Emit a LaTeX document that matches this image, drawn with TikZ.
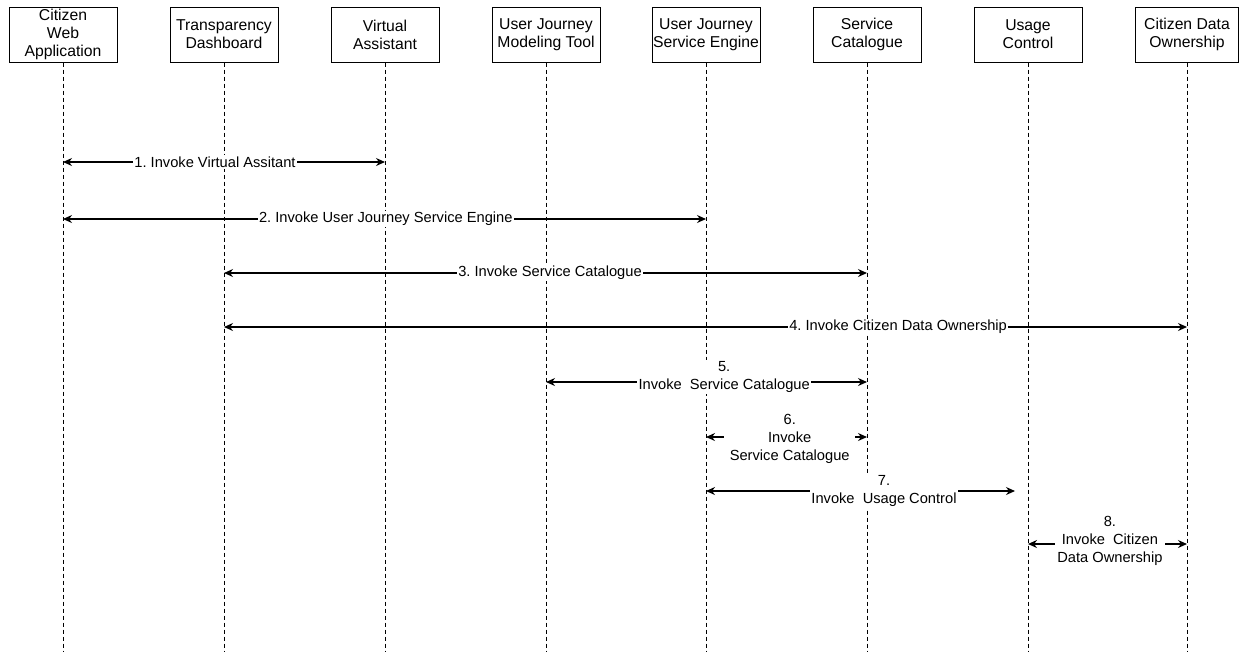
\documentclass[tikz,border=0pt]{standalone}
\usepackage{fontspec}
\setmainfont{Liberation Sans}
\frenchspacing
\usetikzlibrary{arrows.meta, positioning, calc}
\tikzset{
  actor/.style={
    draw=black,
    line width=0.75pt,
    fill=white,
    minimum width=81pt,
    minimum height=41.25pt,
    inner sep=0pt,
    align=center,
    font=\fontsize{11.8}{13.5}\selectfont
  },
  lifeline/.style={
    draw=black,
    line width=0.75pt,
    dash pattern=on 3pt off 2.25pt
  },
  msg/.style={
    {Stealth[length=6.75pt,width=6pt]}-{Stealth[length=6.75pt,width=6pt]},
    line width=0.9pt,
    draw=black
  },
  msglabel/.style={
    fill=white,
    inner sep=1pt,
    align=center,
    font=\fontsize{11}{13.5}\selectfont
  }
}

\begin{document}
\begin{tikzpicture}[x=0.75pt, y=-0.75pt]
  \useasboundingbox (0,0) rectangle (1239,651);

  % participants
  \node[actor] (cwa)  at (63, 34.5)   {Citizen\\Web\\Application};
  \node[actor] (td)   at (224, 34.5)  {Transparency\\Dashboard};
  \node[actor] (va)   at (385, 34.5)  {Virtual\\Assistant};
  \node[actor] (ujmt) at (546, 34.5)  {User Journey\\Modeling Tool};
  \node[actor] (ujse) at (706, 34.5)  {User Journey\\Service Engine};
  \node[actor] (sc)   at (867, 34.5)  {Service\\Catalogue};
  \node[actor] (uc)   at (1028, 34.5) {Usage\\Control};
  \node[actor, minimum width=77.25pt] (cdo) at (1187, 34.5) {Citizen Data\\Ownership};

  \coordinate (bottom) at (0, 651);
  \foreach \p in {cwa, td, va, ujmt, ujse, sc, uc, cdo}
    \draw[lifeline] (\p.south) -- (\p.south |- bottom);

  % message rows
  \coordinate (m1) at (0, 162);
  \coordinate (m2) at (0, 219);
  \coordinate (m3) at (0, 273);
  \coordinate (m4) at (0, 327);
  \coordinate (m5) at (0, 382);
  \coordinate (m6) at (0, 437);
  \coordinate (m7) at (0, 491);
  \coordinate (m8) at (0, 544);

  \draw[msg] (cwa |- m1) -- node[msglabel, pos=0.472] {1. Invoke Virtual Assitant} (va |- m1);
  \draw[msg] (cwa |- m2) -- node[msglabel, pos=0.502] {2. Invoke User Journey Service Engine} (ujse |- m2);
  \draw[msg] (td |- m3) -- node[msglabel, pos=0.507] {3. Invoke Service Catalogue} (sc |- m3);
  \draw[msg] (td |- m4) -- node[msglabel, pos=0.70] {4. Invoke Citizen Data Ownership} (cdo |- m4);
  \draw[msg] (ujmt |- m5) -- node[msglabel, pos=0.555, yshift=3.75pt] {5.\\Invoke~~Service Catalogue} (sc |- m5);
  \draw[msg] (ujse |- m6) -- node[msglabel, pos=0.52, yshift=-1.5pt, inner xsep=4pt] {6.\\Invoke\\Service Catalogue} (sc |- m6);
  \draw[msg] (ujse |- m7) -- node[msglabel, pos=0.576] {7.\\Invoke~~Usage Control} ([xshift=-9.75pt]uc |- m7);
  \draw[msg] (uc |- m8) -- node[msglabel, pos=0.515, yshift=2.25pt, inner xsep=2pt] {8.\\Invoke~~Citizen\\Data Ownership} (cdo |- m8);
\end{tikzpicture}
\end{document}
